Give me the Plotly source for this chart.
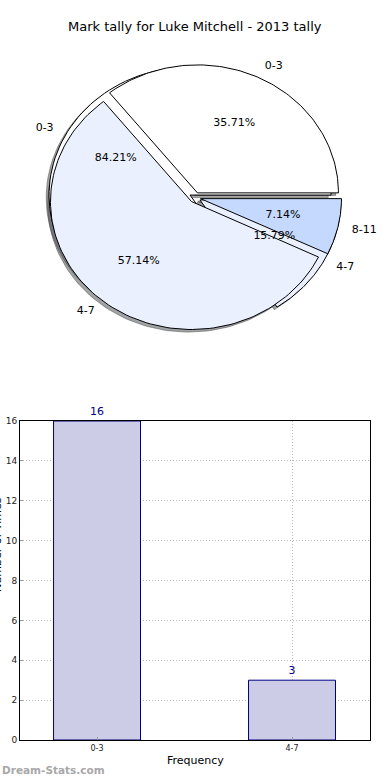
import numpy as np
import plotly.graph_objects as go

# ---------------- data ----------------
title_text = "Mark tally for Luke Mitchell - 2013 tally"
pie1_labels = ["0-3", "4-7", "8-11"]
pie1_values = [5, 8, 1]
pie1_colors = ["#ffffff", "#eaf0fd", "#c5d8fd"]
pie2_labels = ["0-3", "4-7"]
pie2_values = [16, 3]
pie2_colors = ["#ffffff", "#eaf0fd"]
bar_categories = ["0-3", "4-7"]
bar_values = [16, 3]
y_ticks = [0, 2, 4, 6, 8, 10, 12, 14, 16]

# ---------------- layout constants ----------------
W, H = 390, 780
EXPLODE = 0.04
SHADOW = 0.02
FONT = "DejaVu Sans"
# pie axes (pixel geometry)
PIE_CX, PIE_CY, RX, RY = 195.0, 197.5, 141.0, 128.0
PIE_TOP, PIE_BOT = 40.0, 360.0
# bar axes pixel box
BX0, BX1, BY0, BY1 = 20.0, 370.0, 421.0, 740.0


def wedges(values):
    total = float(sum(values))
    fr = np.array(values, dtype=float) / total
    ends = np.cumsum(fr) * 360.0
    starts = ends - fr * 360.0
    return fr, starts, ends


def wedge_xy(start, end, explode, dx=0.0, dy=0.0, n=120):
    mid = np.deg2rad((start + end) / 2.0)
    ox, oy = explode * np.cos(mid) + dx, explode * np.sin(mid) + dy
    t = np.deg2rad(np.linspace(start, end, n))
    xs = np.concatenate([[ox], ox + np.cos(t), [ox]])
    ys = np.concatenate([[oy], oy + np.sin(t), [oy]])
    return xs, ys


def shade(hexcol):
    h = hexcol.lstrip("#")
    r, g, b = (int(h[i:i + 2], 16) for i in (0, 2, 4))
    return "rgba(%d,%d,%d,0.5)" % (0.3 * r, 0.3 * g, 0.3 * b)


fig = go.Figure()

pies = [(pie2_labels, pie2_values, pie2_colors), (pie1_labels, pie1_values, pie1_colors)]

# shadows first (below all wedges)
for labels, values, colors in pies:
    fr, st, en = wedges(values)
    for i in range(len(values)):
        xs, ys = wedge_xy(st[i], en[i], EXPLODE, -SHADOW, -SHADOW)
        fig.add_trace(go.Scatter(x=xs, y=ys, mode="lines", fill="toself",
                                 fillcolor=shade(colors[i]),
                                 line=dict(color=shade(colors[i]), width=1),
                                 hoverinfo="skip", showlegend=False,
                                 xaxis="x", yaxis="y"))

# wedges
for labels, values, colors in pies:
    fr, st, en = wedges(values)
    for i in range(len(values)):
        xs, ys = wedge_xy(st[i], en[i], EXPLODE)
        fig.add_trace(go.Scatter(x=xs, y=ys, mode="lines", fill="toself",
                                 fillcolor=colors[i],
                                 line=dict(color="black", width=1),
                                 hoverinfo="skip", showlegend=False,
                                 xaxis="x", yaxis="y"))

# labels and percentages
for labels, values, colors in pies:
    fr, st, en = wedges(values)
    for i in range(len(values)):
        mid = np.deg2rad((st[i] + en[i]) / 2.0)
        c, s = np.cos(mid), np.sin(mid)
        lx, ly = (1.1 + EXPLODE) * c, (1.1 + EXPLODE) * s
        fig.add_trace(go.Scatter(x=[lx], y=[ly], mode="text", text=[labels[i]],
                                 textposition="middle right" if lx > 0 else "middle left",
                                 textfont=dict(family=FONT, size=11, color="black"),
                                 hoverinfo="skip", showlegend=False,
                                 xaxis="x", yaxis="y"))
        px, py = (0.6 + EXPLODE) * c, (0.6 + EXPLODE) * s
        fig.add_trace(go.Scatter(x=[px], y=[py], mode="text",
                                 text=["%.2f%%" % (fr[i] * 100)],
                                 textposition="middle center",
                                 textfont=dict(family=FONT, size=11, color="black"),
                                 hoverinfo="skip", showlegend=False,
                                 xaxis="x", yaxis="y"))

# bar chart
fig.add_trace(go.Bar(x=bar_categories, y=bar_values, width=0.446,
                     marker=dict(color="#cccce6", line=dict(color="#000080", width=1)),
                     text=[str(v) for v in bar_values], textposition="outside",
                     textfont=dict(family=FONT, size=11, color="#000080"),
                     cliponaxis=False, hoverinfo="skip", showlegend=False,
                     xaxis="x2", yaxis="y2"))

pie_xr = [-PIE_CX / RX, (W - PIE_CX) / RX]
pie_yr = [-(PIE_BOT - PIE_CY) / RY, (PIE_CY - PIE_TOP) / RY]

grid = dict(showgrid=True, gridcolor="#b8b8b8", griddash="1px,2px", gridwidth=1)

fig.update_layout(
    width=W, height=H, autosize=False,
    margin=dict(l=0, r=0, t=0, b=0, pad=0, autoexpand=False),
    paper_bgcolor="white", plot_bgcolor="white",
    font=dict(family=FONT, color="black"),
    showlegend=False,
    xaxis=dict(domain=[0, 1], range=pie_xr, visible=False, fixedrange=True),
    yaxis=dict(domain=[1 - PIE_BOT / H, 1 - PIE_TOP / H], range=pie_yr,
               visible=False, fixedrange=True),
    xaxis2=dict(domain=[BX0 / W, BX1 / W], range=[-0.395, 1.4], anchor="y2",
                showline=True, linecolor="black", linewidth=1, mirror=True,
                ticks="inside", ticklen=3, tickcolor="#999999", automargin=False,
                tickfont=dict(family=FONT, size=8, color="#222"),
                zeroline=False, fixedrange=True, **grid),
    yaxis2=dict(domain=[1 - BY1 / H, 1 - BY0 / H], range=[0, 16], anchor="x2",
                tickvals=y_ticks, automargin=False,
                showline=True, linecolor="black", linewidth=1, mirror=True,
                ticks="inside", ticklen=3, tickcolor="#999999",
                tickfont=dict(family=FONT, size=9, color="#222"),
                zeroline=False, fixedrange=True, **grid),
    annotations=[
        dict(text=title_text, x=0.5, y=1 - 27 / H, xref="paper", yref="paper",
             xanchor="center", yanchor="middle", showarrow=False,
             font=dict(family=FONT, size=13, color="black")),
        dict(text="Frequency", x=(BX0 + BX1) / 2 / W, y=1 - 760 / H, xref="paper",
             yref="paper", xanchor="center", yanchor="middle", showarrow=False,
             font=dict(family=FONT, size=11, color="black")),
        dict(text="Number of Times", x=-3 / W, y=1 - 545 / H, xref="paper",
             yref="paper", xanchor="center", yanchor="middle", textangle=-90,
             showarrow=False, font=dict(family=FONT, size=11, color="black")),
        dict(text="<b>Dream-Stats.com</b>", x=0, y=1 - 770 / H, xref="paper",
             yref="paper", xanchor="left", yanchor="middle", showarrow=False,
             font=dict(family=FONT, size=10.5, color="#a8a8a8")),
    ],
)

fig.write_html("out.html", config={"displayModeBar": False, "responsive": False},
               default_width="390px", default_height="780px",
               post_script="document.body.style.margin='0';document.body.style.overflow='hidden';")
